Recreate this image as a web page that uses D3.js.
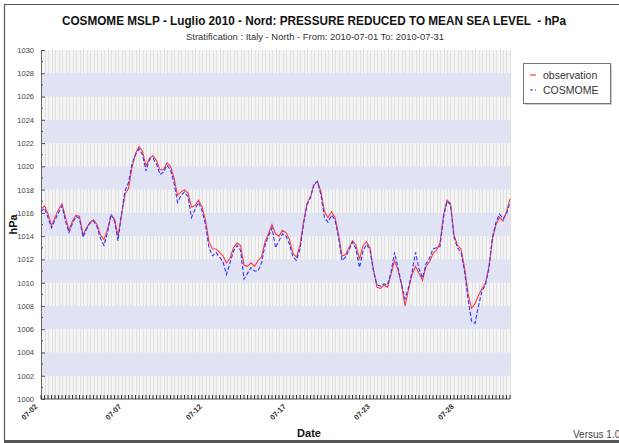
<!DOCTYPE html>
<html>
<head>
<meta charset="utf-8">
<script src="https://cdn.jsdelivr.net/npm/d3@7"></script>
<style>
  body { margin: 0; background: #fff; }
  svg { display: block; font-family: "Liberation Sans", Arial, sans-serif; }
</style>
</head>
<body>
<svg id="chart"></svg>
<script>
// observed MSLP (hPa), one value per time step
const obsValues = [
  1016.3, 1016.6, 1015.9, 1014.9, 1015.6, 1016.3, 1016.8, 1015.6, 1014.5, 1015.3,
  1015.8, 1015.7, 1014.1, 1014.7, 1015.2, 1015.4, 1015.0, 1014.1, 1013.7, 1014.6,
  1015.7, 1015.5, 1014.0, 1015.8, 1017.6, 1018.1, 1019.9, 1021.1, 1021.7, 1021.3,
  1020.0, 1020.7, 1020.9, 1020.5, 1019.7, 1019.7, 1020.3, 1020.0, 1019.0, 1017.5,
  1017.8, 1018.0, 1017.7, 1016.5, 1016.6, 1017.1, 1016.5, 1015.4, 1013.5, 1012.9,
  1012.9, 1012.6, 1012.3, 1011.7, 1012.1, 1013.0, 1013.4, 1013.2, 1011.5, 1011.4,
  1011.7, 1011.4, 1011.9, 1012.2, 1013.5, 1014.2, 1015.0, 1014.2, 1014.0, 1014.5,
  1014.3, 1013.7, 1012.5, 1012.2, 1013.2, 1015.2, 1016.8, 1017.4, 1018.4, 1018.7,
  1017.8, 1016.1, 1015.6, 1016.1, 1015.6, 1014.2, 1012.3, 1012.4, 1013.0, 1013.6,
  1013.2, 1012.0, 1013.2, 1013.5, 1013.0, 1011.1, 1009.6, 1009.5, 1009.8, 1009.6,
  1010.7, 1011.9, 1011.1, 1009.8, 1008.0, 1009.4, 1010.7, 1011.4, 1010.8, 1010.2,
  1011.4, 1011.8, 1012.5, 1012.8, 1013.4, 1015.8, 1017.1, 1016.8, 1014.1, 1013.2,
  1012.9, 1011.3, 1009.1, 1007.8, 1008.2, 1008.9, 1009.5, 1010.0, 1011.4, 1013.8,
  1015.0, 1015.6, 1015.3, 1016.1, 1017.2
];

// COSMOME forecast MSLP (hPa)
const cosmomeValues = [
  1016.1, 1016.4, 1015.6, 1014.7, 1015.4, 1016.0, 1016.6, 1015.3, 1014.3, 1015.1,
  1015.7, 1015.5, 1013.9, 1014.6, 1015.1, 1015.3, 1014.8, 1013.8, 1013.2, 1014.3,
  1015.9, 1015.3, 1013.6, 1015.9, 1017.9, 1018.6, 1020.2, 1021.0, 1021.5, 1021.0,
  1019.6, 1020.6, 1020.7, 1020.2, 1019.3, 1019.5, 1020.1, 1019.7, 1018.6, 1016.9,
  1017.5, 1017.8, 1017.4, 1015.6, 1016.3, 1016.9, 1016.2, 1015.0, 1013.0, 1012.3,
  1012.6, 1012.2, 1011.8, 1010.7, 1011.7, 1012.7, 1013.2, 1012.8, 1010.3, 1010.8,
  1011.3, 1011.0, 1011.0, 1011.7, 1013.2, 1014.0, 1014.7, 1013.0, 1013.6, 1014.2,
  1014.0, 1013.3, 1012.2, 1011.9, 1012.9, 1015.0, 1016.7, 1017.3, 1018.5, 1018.7,
  1017.5, 1015.6, 1015.2, 1015.8, 1015.4, 1013.9, 1011.9, 1012.2, 1012.8, 1013.5,
  1012.9, 1011.3, 1012.7, 1013.3, 1012.8, 1011.0, 1009.8, 1009.7, 1009.9, 1009.8,
  1010.9, 1012.6, 1011.3, 1009.9, 1008.6, 1009.6, 1010.9, 1012.6, 1011.2, 1010.4,
  1011.6, 1012.1, 1012.9, 1013.0, 1013.1, 1015.6, 1017.0, 1016.7, 1013.9, 1013.0,
  1012.6, 1011.0, 1008.6, 1006.7, 1006.5, 1008.0, 1009.3, 1009.8, 1011.3, 1013.9,
  1015.2, 1015.9, 1015.5, 1015.9, 1016.9
];

const tickIndex = [0, 24, 47, 71, 95, 119];
const tickLabels = ["07-02", "07-07", "07-12", "07-17", "07-23", "07-28"];
const seriesNames = ["observation", "COSMOME"];

const width = 619;
const height = 443;
const margin = { top: 50, right: 109, bottom: 44, left: 41 };

const svg = d3.select('#chart')
  .attr('width', width)
  .attr('height', height);

// outer frame
svg.append('line').attr('x1', 4).attr('x2', width).attr('y1', 4.5).attr('y2', 4.5)
  .attr('stroke', '#555').attr('stroke-width', 1.2);
svg.append('line').attr('x1', 4.5).attr('x2', 4.5).attr('y1', 4).attr('y2', 440)
  .attr('stroke', '#555').attr('stroke-width', 1.2);
svg.append('rect').attr('x', 4).attr('y', 440).attr('width', width - 4).attr('height', 3)
  .attr('fill', '#555');

const n = obsValues.length;
const x = d3.scaleLinear()
  .domain([0, n - 1])
  .range([margin.left, width - margin.right]);

const y = d3.scaleLinear()
  .domain([1000, 1030])
  .range([height - margin.bottom, margin.top]);

// plot background: grey with fine vertical grid, blue bands on top
const plot = svg.append('g');
plot.append('rect')
  .attr('x', x(0)).attr('y', y(1030))
  .attr('width', x(n - 1) - x(0)).attr('height', y(1000) - y(1030))
  .attr('fill', '#f4f4f4');

plot.append('g')
  .selectAll('line')
  .data(d3.range(n))
  .join('line')
  .attr('x1', d => Math.round(x(d)) + 0.5)
  .attr('x2', d => Math.round(x(d)) + 0.5)
  .attr('y1', y(1030)).attr('y2', y(1000))
  .attr('stroke', '#e0e0e0')
  .attr('stroke-width', 1);

plot.append('g')
  .selectAll('rect')
  .data(d3.range(1002, 1030, 4))
  .join('rect')
  .attr('x', x(0))
  .attr('y', d => y(d + 2))
  .attr('width', x(n - 1) - x(0))
  .attr('height', d => y(d) - y(d + 2))
  .attr('fill', '#dfe3f4');

// y axis
const yAxis = svg.append('g')
  .attr('transform', `translate(${margin.left},0)`)
  .call(d3.axisLeft(y).tickValues(d3.range(1000, 1031, 2)).tickSize(-4).tickPadding(7).tickFormat(d3.format('d')));
yAxis.select('.domain').attr('stroke', '#666');
yAxis.selectAll('.tick line').attr('stroke', '#555');
yAxis.selectAll('text').attr('fill', '#444').style('font-size', '7.5px');

svg.append('g')
  .attr('transform', `translate(${margin.left},0)`)
  .selectAll('line')
  .data(d3.range(1001, 1030, 2))
  .join('line')
  .attr('x1', 0).attr('x2', 2)
  .attr('y1', d => y(d)).attr('y2', d => y(d))
  .attr('stroke', '#555');

// x axis: dense ticks at every time step
const xAxis = svg.append('g')
  .attr('transform', `translate(0,${y(1000)})`);
xAxis.append('line')
  .attr('x1', x(0)).attr('x2', x(n - 1))
  .attr('stroke', '#555');
xAxis.selectAll('line.minor')
  .data(d3.range(n))
  .join('line')
  .attr('class', 'minor')
  .attr('x1', d => x(d)).attr('x2', d => x(d))
  .attr('y1', 0).attr('y2', -4)
  .attr('stroke', '#333');

xAxis.selectAll('text')
  .data(tickIndex)
  .join('text')
  .attr('transform', d => `translate(${x(d) - 3},8) rotate(-45)`)
  .attr('text-anchor', 'end')
  .attr('fill', '#333')
  .style('font-size', '7.5px')
  .style('font-weight', 'bold')
  .text((d, i) => tickLabels[i]);

// series
const line = d3.line()
  .x((d, i) => x(i))
  .y(d => y(d));

svg.append('path')
  .datum(obsValues)
  .attr('fill', 'none')
  .attr('stroke', '#ff3a3a')
  .attr('stroke-width', 1.1)
  .attr('d', line);

svg.append('path')
  .datum(cosmomeValues)
  .attr('fill', 'none')
  .attr('stroke', '#3434ff')
  .attr('stroke-width', 1.1)
  .attr('stroke-dasharray', '4,2')
  .attr('d', line);

// titles
svg.append('text')
  .attr('x', 314).attr('y', 25)
  .attr('text-anchor', 'middle')
  .attr('textLength', 504)
  .attr('lengthAdjust', 'spacingAndGlyphs')
  .style('font-size', '12.5px')
  .style('font-weight', 'bold')
  .style('white-space', 'pre')
  .attr('fill', '#111')
  .text('COSMOME MSLP - Luglio 2010 - Nord: PRESSURE REDUCED TO MEAN SEA LEVEL  - hPa');

svg.append('text')
  .attr('x', 315).attr('y', 40)
  .attr('text-anchor', 'middle')
  .attr('textLength', 258)
  .attr('lengthAdjust', 'spacingAndGlyphs')
  .style('font-size', '9px')
  .attr('fill', '#333')
  .text('Stratification : Italy - North - From: 2010-07-01 To: 2010-07-31');

svg.append('text')
  .attr('transform', `translate(17,${y(1015)}) rotate(-90)`)
  .attr('text-anchor', 'middle')
  .style('font-size', '11px')
  .style('font-weight', 'bold')
  .attr('fill', '#111')
  .text('hPa');

svg.append('text')
  .attr('x', 309).attr('y', 437)
  .attr('text-anchor', 'middle')
  .style('font-size', '11px')
  .style('font-weight', 'bold')
  .attr('fill', '#111')
  .text('Date');

svg.append('text')
  .attr('x', 573).attr('y', 438)
  .style('font-size', '10px')
  .attr('fill', '#444')
  .text('Versus 1.0');

// legend
const legend = svg.append('g').attr('transform', 'translate(523,63)');
legend.append('rect')
  .attr('x', 2).attr('y', 2).attr('width', 87).attr('height', 40)
  .attr('fill', '#ccc');
legend.append('rect')
  .attr('x', 0.5).attr('y', 0.5).attr('width', 87).attr('height', 40)
  .attr('fill', '#fff').attr('stroke', '#777');
const legendColors = ['#ff3a3a', '#3434ff'];
const legendDash = [null, '3,2'];
seriesNames.forEach((name, i) => {
  legend.append('line')
    .attr('x1', 7).attr('x2', 13)
    .attr('y1', 12 + i * 15).attr('y2', 12 + i * 15)
    .attr('stroke', legendColors[i])
    .attr('stroke-width', 1.2)
    .attr('stroke-dasharray', legendDash[i]);
  legend.append('text')
    .attr('x', 20).attr('y', 16 + i * 15)
    .style('font-size', '10.5px')
    .attr('fill', '#333')
    .text(name);
});
</script>
</body>
</html>
